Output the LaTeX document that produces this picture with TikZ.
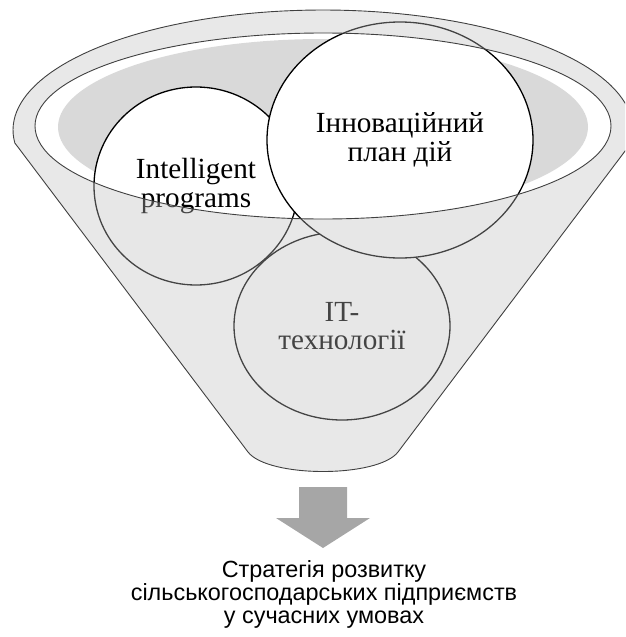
\documentclass[tikz,border=0pt]{standalone}
\usepackage{fontspec}
\setmainfont{Liberation Serif}
\newfontfamily\captionfont{Liberation Sans}
\usetikzlibrary{shapes.geometric}

\begin{document}
\begin{tikzpicture}
	[x=1pt,y=-1pt,line join=round,
	%Styles
	rim line/.style={draw=rimcolor,line width=.9pt},
	back wall/.style={fill=backcolor},
	glass/.style={fill=glasscolor,fill opacity=.36},
	bubble/.style={ellipse,draw=black,line width=1.3pt,fill=white,inner sep=0pt,
		align=center,font=\fontsize{29.2}{28.5}\selectfont},
	caption/.style={align=center,font=\captionfont\fontsize{23.4}{23}\selectfont}
	]
	
	%Colors
	\colorlet{rimcolor}{black!75}
	\colorlet{glasscolor}{black!25}
	\colorlet{backcolor}{black!15}
	\colorlet{arrowcolor}{black!35}
	
	\useasboundingbox (0,0) rectangle (625,637);
	\clip (0,0) rectangle (625,637);
	
	%The graphic
	\fill[back wall] (323,127) ellipse[x radius=265,y radius=88];
	
	\node[bubble,minimum width=216pt,minimum height=188pt] (it) at (342,326) {IT-\\технології};
	\node[bubble,minimum width=204pt,minimum height=198pt] (intel) at (196,186) {Intelligent\\programs};
	\node[bubble,minimum width=266pt,minimum height=236pt] (plan) at (400,140) {Інноваційний\\план дій};
	
	%funnel wall in front of the bubbles
	\fill[glass,even odd rule]
		plot[domain=-6.2:186.2,samples=90] ({323+310*cos(\x)},{130-120*sin(\x)})
		-- (248,452) .. controls (268,478) and (378,478) .. (398,452) -- cycle
		(323,126) ellipse[x radius=288,y radius=93];
	\draw[rim line]
		plot[domain=-6.2:186.2,samples=90] ({323+310*cos(\x)},{130-120*sin(\x)})
		-- (248,452) .. controls (268,478) and (378,478) .. (398,452) -- cycle;
	\draw[rim line] (323,126) ellipse[x radius=288,y radius=93];
	
	\fill[arrowcolor] (299,487) -- (347,487) -- (347,518) -- (370,518) -- (323,548)
		-- (276,518) -- (299,518) -- cycle;
	
	\node[caption] (goal) at (324,594) {Стратегія розвитку\\сільськогосподарських підприємств\\у сучасних умовах};
\end{tikzpicture}
\end{document}
